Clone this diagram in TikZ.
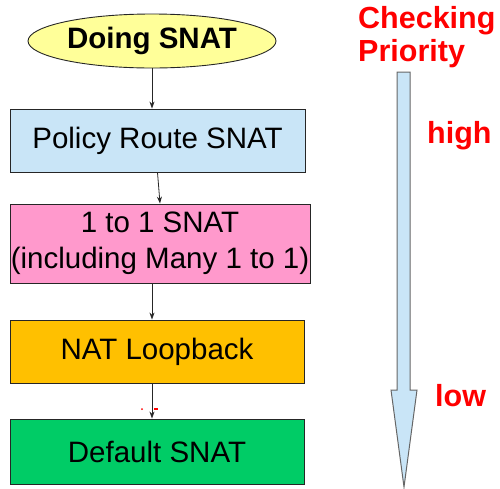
\documentclass[tikz,border=0pt]{standalone}
\usepackage{fontspec}
\setmainfont{Liberation Sans}
\usetikzlibrary{arrows.meta,shapes.geometric}
\definecolor{ellfill}{HTML}{FFFF99}
\definecolor{polfill}{HTML}{C9E5F7}
\definecolor{pinkfill}{HTML}{FF99CC}
\definecolor{orgfill}{HTML}{FFC000}
\definecolor{grnfill}{HTML}{00CC66}
\definecolor{prired}{HTML}{FF0000}
\tikzset{
  box/.style={draw=black!85, line width=0.9pt, rectangle, inner sep=0pt, align=center,
    font=\fontsize{29.5}{36}\selectfont},
  flow/.style={draw=black!85, line width=0.8pt, -{Stealth[length=7pt,width=5pt]}},
  redlab/.style={text=prired, font=\bfseries\fontsize{30.5}{33}\selectfont, inner sep=0pt, anchor=base west},
}
\begin{document}
\begin{tikzpicture}[x=1pt,y=-1pt]
\useasboundingbox (0,0) rectangle (500,488);
\node[ellipse, draw=black!85, line width=0.9pt, fill=ellfill, minimum width=248pt, minimum height=54pt, inner sep=0pt,
  font=\bfseries\fontsize{29.5}{33}\selectfont] (ell) at (152,41) {Doing SNAT};
\node[box, fill=polfill, minimum width=295pt, minimum height=63pt] (pol) at (157.5,140.5) {Policy Route SNAT};
\node[box, fill=pinkfill, minimum width=300pt, minimum height=79pt] (pink) at (160,243.5) {1 to 1 SNAT\\(including Many 1 to 1)};
\node[box, fill=orgfill, minimum width=294pt, minimum height=63pt] (org) at (157,351.5) {NAT Loopback};
\node[box, fill=grnfill, minimum width=294pt, minimum height=65pt] (grn) at (157,451.5) {Default SNAT};
\draw[flow] (ell.south) -- (ell.south |- pol.north);
\draw[flow] (pol.south) -- (pink.north);
\draw[flow] (pink.south -| ell.south) -- (org.north -| ell.south);
\draw[flow] (org.south -| ell.south) -- (grn.north -| ell.south);
\coordinate (m1) at (142,409);
\coordinate (m2) at (154,409);
\fill[prired] (m1) circle (1pt);
\draw[prired, line width=1.2pt] (m2) -- ++(4,0);
% priority arrow
\draw[draw=black!60, line width=1pt, fill=polfill]
  (397,72) -- (410,72) -- (410,390) -- (417,390) -- (404,487) -- (391,390) -- (397,390) -- cycle;
\node[redlab] (chk) at (358,28) {Checking};
\node[redlab] (pri) at (358,61) {Priority};
\node[redlab] (hi) at (427,143) {high};
\node[redlab] (lo) at (435,406) {low};
\end{tikzpicture}
\end{document}
